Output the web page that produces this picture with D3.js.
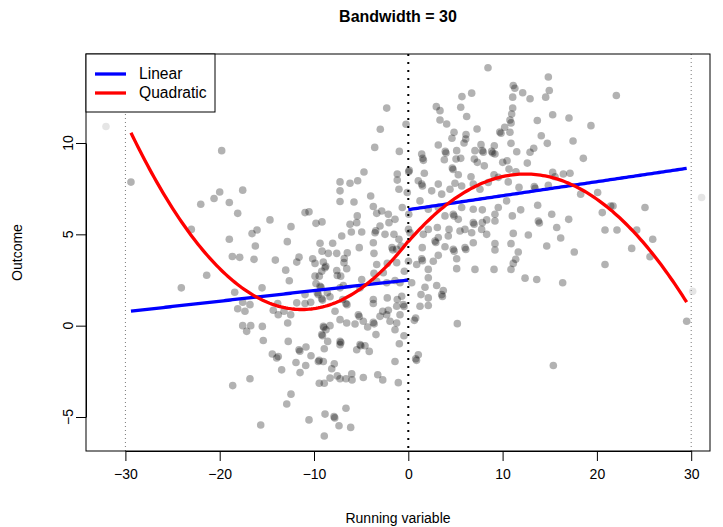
<!DOCTYPE html>
<html><head><meta charset="utf-8">
<script src="https://cdn.jsdelivr.net/npm/d3@7"></script>
<style>body{margin:0;background:#fff} svg{display:block} text{font-family:"Liberation Sans",Arial,Helvetica,sans-serif}</style>
</head><body><svg id="c" width="723" height="527"></svg>
<script>
// ---- data ----
const runX = [
-19.79,-29.41,-2.29,-2.97,-3.56,-0.95,-4.70,-1.17,-1.17,8.45,11.13,11.3,14.85,14.95,12.13,12.91,11.07,14.57,6.72,5.69,
11.07,5.56,2.97,3.36,15.31,6.19,10.96,3.36,4.07,10.78,10.9,10.22,9.83,9.7,10.78,13.68,7.29,4.85,6.12,4.63,
5.91,6.09,14.10,14.74,-0.24,3.18,7.71,9.12,10.89,1.53,1.6,1.42,3.92,4.0,3.82,5.13,5.06,5.56,7.07,7.00,
7.85,7.95,7.32,8.06,8.84,8.95,9.19,10.01,10.47,11.50,12.91,13.30,12.62,4.67,4.75,10.68,11.42,0.04,0.1,1.70,
5.30,6.65,9.09,9.54,15.31,22.06,17.04,19.37,17.47,18.56,16.44,17.15,15.56,-17.56,-20.00,-20.60,-22.01,-18.98,-18.09,-23.01,
-18.98,-18.66,-17.88,-21.38,-24.07,-18.41,-17.56,-18.09,-6.18,-5.37,-7.24,-7.24,-3.99,-7.24,-5.76,-3.71,-3.35,-2.82,-2.12,-1.41,
-2.05,-10.95,-10.53,-5.41,-5.47,-6.18,-14.67,-12.44,-9.79,-9.15,-3.00,-3.53,-3.45,-2.47,-1.52,-16.04,-16.57,-6.04,-4.94,-7.06,
-3.71,-12.83,-9.36,-8.02,-16.22,-5.20,-1.73,-1.65,-1.23,-9.15,-8.48,-7.59,-6.47,-3.64,-16.36,-14.10,-11.59,-11.83,-10.14,-9.89,
-9.01,-6.79,-6.82,-3.35,-2.23,-8.83,-8.75,-9.18,-13.00,-6.53,-7.59,-3.64,-2.65,-9.44,-7.53,-7.17,-9.89,-12.62,-9.79,-9.36,
-9.25,-4.94,-3.35,-2.29,-1.41,-15.51,-9.65,-9.55,-7.24,-6.89,-8.59,-5.12,-10.95,-9.18,-9.1,-8.30,-6.96,-6.61,-6.5,-3.71,
-2.23,-1.17,-3.71,-16.79,-17.32,-13.85,-14.32,-13.18,-13.79,-12.47,-11.83,-10.95,-10.35,-7.77,-5.30,-5.2,-2.71,-2.12,-3.00,-2.29,
-1.23,-7.24,-6.53,-4.77,1.42,1.5,1.06,3.18,2.48,3.54,-0.99,-0.11,4.42,4.95,5.66,6.89,7.60,8.48,10.60,11.74,
13.36,13.45,14.85,-0.64,0.05,1.24,2.12,3.18,4.77,4.85,5.66,5.30,3.89,6.89,7.85,9.19,9.54,10.43,11.03,11.92,
13.72,15.21,13.79,13.9,6.89,6.98,7.85,8.31,9.19,7.78,6.72,6.01,5.48,4.32,3.08,2.12,0.02,0.18,-0.99,-0.77,
1.59,2.83,2.92,3.18,4.24,6.89,8.31,11.13,12.73,9.19,10.89,14.68,1.48,3.89,4.77,4.86,6.01,6.1,9.19,11.66,
3.18,5.13,1.42,1.5,2.65,0.02,0.89,-1.23,11.39,11.13,5.13,7.07,9.09,10.89,2.12,-0.42,2.12,12.38,13.62,-0.88,
0.36,1.77,3.01,3.71,3.54,3.62,1.35,2.12,-0.70,-0.53,-0.45,-1.23,2.12,1.24,0.78,-0.88,5.20,18.28,20.08,21.46,
21.71,20.57,25.10,17.01,15.74,16.16,20.86,22.13,24.22,25.92,23.69,25.63,17.60,20.86,16.37,29.52,-18.62,-17.56,-16.71,-17.14,
-15.48,-12.79,-15.38,-12.73,-14.42,-13.79,-13.96,-11.59,-11.5,-10.85,-10.32,-11.91,-10.88,-9.54,-9.45,-9.01,-13.43,-11.48,-7.85,-8.12,
-9.01,-8.95,-8.73,-9.18,-9.1,-8.30,-8.55,-8.91,-7.24,-7.15,-7.24,-5.65,-4.31,-3.71,-3.62,-3.43,-5.12,-5.03,-5.47,-4.59,
-4.14,-1.94,-1.41,-0.95,-1.41,-16.79,-9.44,-8.91,-8.30,-7.53,-7.24,-6.61,-6.00,-5.97,-4.77,-3.24,-2.71,-1.06,-12.44,-12.89,
-15.65,-10.53,-8.83,-7.88,-7.8,-6.61,-7.35,-6.11,-8.91,0.64,-0.46,1.06,0.78,0.87,15.38
];
const outcome = [
9.58,7.86,11.91,10.75,9.76,9.54,8.41,8.30,7.97,14.12,13.15,13.0,13.61,12.87,12.75,12.42,12.51,12.51,12.73,12.54,
11.92,11.96,11.99,11.77,11.55,11.45,11.59,11.26,11.04,11.26,11.1,10.86,10.53,10.6,10.59,11.23,10.77,10.59,10.46,10.26,
10.00,10.22,10.40,9.98,11.03,9.89,9.91,9.85,9.98,9.16,9.05,9.40,9.54,9.45,9.08,9.58,9.12,9.16,9.58,9.12,
9.58,9.5,8.94,8.75,9.54,9.45,9.40,8.94,9.03,9.52,9.49,9.71,8.90,8.63,8.55,8.57,8.42,8.42,8.5,8.34,
8.26,8.15,8.26,8.12,8.39,12.60,11.37,10.95,10.11,9.16,8.30,8.34,8.15,7.42,7.32,6.96,6.65,6.74,6.15,5.27,
4.73,3.79,3.74,2.76,2.07,1.83,1.28,0.93,7.80,7.93,7.87,7.38,7.10,6.80,6.77,6.52,6.15,6.28,6.10,5.82,
5.64,6.19,6.23,6.01,5.64,5.55,5.79,5.42,5.60,5.68,5.46,5.09,5.2,5.00,5.00,5.24,5.04,5.13,5.13,4.91,
4.54,4.60,4.51,4.51,4.36,4.27,4.27,4.15,4.18,4.08,3.96,3.96,3.99,3.96,3.63,3.59,3.75,3.48,3.66,3.41,
3.48,3.68,3.45,3.35,3.41,3.17,3.25,2.98,3.04,3.12,3.02,2.86,2.90,2.71,2.75,2.71,2.71,2.46,2.31,2.16,
2.1,2.53,2.43,2.35,2.47,2.07,1.80,1.7,2.07,2.20,1.80,2.07,1.70,1.48,1.4,1.58,1.43,1.21,1.15,1.43,
1.52,1.43,1.21,1.15,0.79,1.21,0.84,0.79,0.60,0.60,1.25,1.21,1.28,0.79,0.60,0.5,0.79,0.84,0.51,0.60,
0.15,0.33,0.15,0.24,7.75,7.65,7.93,7.75,7.38,7.20,7.47,7.29,7.47,7.80,7.65,7.75,7.47,7.84,7.87,7.57,
7.62,7.52,7.69,6.47,6.10,6.83,6.37,6.47,6.10,6.0,6.47,5.82,6.01,6.37,6.34,6.10,6.47,6.83,6.01,6.34,
6.59,6.10,5.73,5.62,5.64,5.55,5.64,5.79,5.73,5.27,5.09,5.27,5.18,5.27,5.37,5.27,5.27,5.09,4.73,4.36,
5.00,4.63,4.55,4.82,4.91,4.54,5.00,5.05,4.96,4.49,4.49,4.36,4.27,4.32,4.18,4.08,4.27,4.17,4.14,4.03,
3.85,3.66,3.66,3.56,3.53,3.53,3.35,3.45,3.63,3.41,3.12,3.08,3.08,3.08,3.08,2.98,2.62,2.60,2.53,2.35,
2.35,2.10,2.20,1.92,1.70,1.6,1.70,1.52,1.61,1.15,1.05,1.06,1.10,1.06,0.42,0.60,0.11,7.20,7.29,6.55,
6.55,6.19,6.47,5.82,5.37,4.80,5.24,5.24,5.24,4.73,4.23,3.77,4.03,3.35,2.35,0.24,-3.28,0.00,0.00,-0.31,
-0.04,0.15,-0.81,-0.86,-1.55,-1.69,-1.77,-1.32,-1.4,-1.17,-1.65,-2.02,-2.18,-1.96,-1.9,-1.96,-2.42,-2.57,-2.09,-2.36,
-0.04,-0.1,-0.22,-0.49,-0.55,0.00,-0.86,-1.26,-0.86,-0.92,-1.04,0.09,-0.07,0.18,0.1,-0.49,-1.04,-1.1,-1.32,-1.10,
-1.41,0.24,-0.22,-0.99,-1.96,-2.91,-3.15,-3.15,-2.87,-2.75,-2.91,-2.91,-2.64,-2.97,-2.84,-2.69,-2.97,-3.12,-3.75,-4.29,
-5.44,-5.16,-4.84,-4.98,-5.05,-4.52,-5.48,-5.57,-6.04,0.29,-0.55,-1.59,-1.81,-1.9,-2.18
];
// observations outside the bandwidth (drawn faint)
const outsideX = [-32.06, 31.1, 30.16];
const outsideY = [10.9, 7.02, 1.88];

const xTicks = [-30, -20, -10, 0, 10, 20, 30];
const yTicks = [-5, 0, 5, 10];
const cutoff = 0;
const bandwidth = 30;
// fitted coefficients read from the drawn fits: [intercept, slope, (quadratic)]
const linearLeft  = [2.50, 0.058];
const linearRight = [6.35, 0.0766];
const quadLeft  = [4.631, 0.6644, 0.02945];
const quadRight = [4.60, 0.5959, -0.02399];
const legendLabels = ["Linear", "Quadratic"];
const legendColors = ["#0000ff", "#ff0000"];
const titleText = "Bandwidth = " + bandwidth;
const xLabel = "Running variable";
const yLabel = "Outcome";

// ---- layout ----
const box = {left: 86, right: 710, top: 54, bottom: 451};
const svg = d3.select("#c");
const x = d3.scaleLinear().domain([-30, 30]).range([125.4, 691.2]);
const y = d3.scaleLinear().domain([-5, 10]).range([417, 143]);
const fmt = d => d < 0 ? "\u2212" + Math.abs(d) : String(d);

// points
const pts = runX.map((v, i) => ({x: v, y: outcome[i]}));
svg.append("g").selectAll("circle").data(pts).join("circle")
  .attr("cx", d => x(d.x)).attr("cy", d => y(d.y)).attr("r", 3.8)
  .attr("fill", "#000").attr("fill-opacity", 0.3);
const opts = outsideX.map((v, i) => ({x: v, y: outsideY[i]}));
svg.append("g").selectAll("circle").data(opts).join("circle")
  .attr("cx", d => x(d.x)).attr("cy", d => y(d.y)).attr("r", 3.8)
  .attr("fill", "#000").attr("fill-opacity", 0.1);

// fits
const leftMin = d3.min(runX.filter(v => v < cutoff));
const rightMax = d3.max(runX.filter(v => v >= cutoff));
const poly = (c, v) => c.reduce((s, k, i) => s + k * Math.pow(v, i), 0);
const line = d3.line().x(d => x(d[0])).y(d => y(d[1]));
function fitPath(coef, a, b, color) {
  const n = 120;
  const xs = d3.range(n + 1).map(i => a + (b - a) * i / n);
  svg.append("path").attr("d", line(xs.map(v => [v, poly(coef, v)])))
    .attr("fill", "none").attr("stroke", color).attr("stroke-width", 3.3)
    .attr("stroke-linecap", "butt");
}
fitPath(linearLeft, leftMin, cutoff, legendColors[0]);
fitPath(linearRight, cutoff, rightMax, legendColors[0]);
fitPath(quadLeft, leftMin, cutoff, legendColors[1]);
fitPath(quadRight, cutoff, rightMax, legendColors[1]);

// vertical reference lines
[-bandwidth, bandwidth].forEach(v => {
  svg.append("line").attr("x1", x(v)).attr("x2", x(v)).attr("y1", box.top).attr("y2", box.bottom)
    .attr("stroke", "#777").attr("stroke-width", 1).attr("stroke-dasharray", "1,3");
});
svg.append("line").attr("x1", x(cutoff)).attr("x2", x(cutoff)).attr("y1", box.top).attr("y2", box.bottom)
  .attr("stroke", "#000").attr("stroke-width", 2).attr("stroke-dasharray", "2,6");

// box
svg.append("rect").attr("x", box.left).attr("y", box.top)
  .attr("width", box.right - box.left).attr("height", box.bottom - box.top)
  .attr("fill", "none").attr("stroke", "#000").attr("stroke-width", 1);

// x axis
const xa = svg.append("g").attr("transform", `translate(0,${box.bottom})`)
  .call(d3.axisBottom(x).tickValues(xTicks).tickSize(10).tickSizeOuter(0).tickPadding(8).tickFormat(fmt));
xa.selectAll("text").attr("font-size", 14).attr("fill", "#000").style("font-family", "Liberation Sans, Arial, sans-serif");
xa.selectAll("line,path").attr("stroke", "#000");

// y axis
const ya = svg.append("g").attr("transform", `translate(${box.left},0)`)
  .call(d3.axisLeft(y).tickValues(yTicks).tickSize(10).tickSizeOuter(0).tickFormat(""));
ya.selectAll("line,path").attr("stroke", "#000");
svg.append("g").selectAll("text").data(yTicks).join("text")
  .attr("transform", d => `translate(73,${y(d)}) rotate(-90)`)
  .attr("text-anchor", "middle").attr("font-size", 14).text(fmt);

// labels
svg.append("text").attr("x", (box.left + box.right) / 2).attr("y", 22)
  .attr("text-anchor", "middle").attr("font-size", 16).attr("font-weight", "bold").text(titleText);
svg.append("text").attr("x", (box.left + box.right) / 2).attr("y", 523)
  .attr("text-anchor", "middle").attr("font-size", 14).text(xLabel);
svg.append("text").attr("transform", `translate(22,${(box.top + box.bottom) / 2}) rotate(-90)`)
  .attr("text-anchor", "middle").attr("font-size", 14).text(yLabel);

// legend
const lg = svg.append("g");
lg.append("rect").attr("x", box.left).attr("y", box.top).attr("width", 129).attr("height", 58)
  .attr("fill", "#fff").attr("stroke", "#000").attr("stroke-width", 1);
legendLabels.forEach((t, i) => {
  const ly = box.top + 20 + i * 19;
  lg.append("line").attr("x1", 95).attr("x2", 126).attr("y1", ly).attr("y2", ly)
    .attr("stroke", legendColors[i]).attr("stroke-width", 3.3);
  lg.append("text").attr("x", 139).attr("y", ly + 5).attr("font-size", 15.6).text(t);
});
</script>
</body></html>
